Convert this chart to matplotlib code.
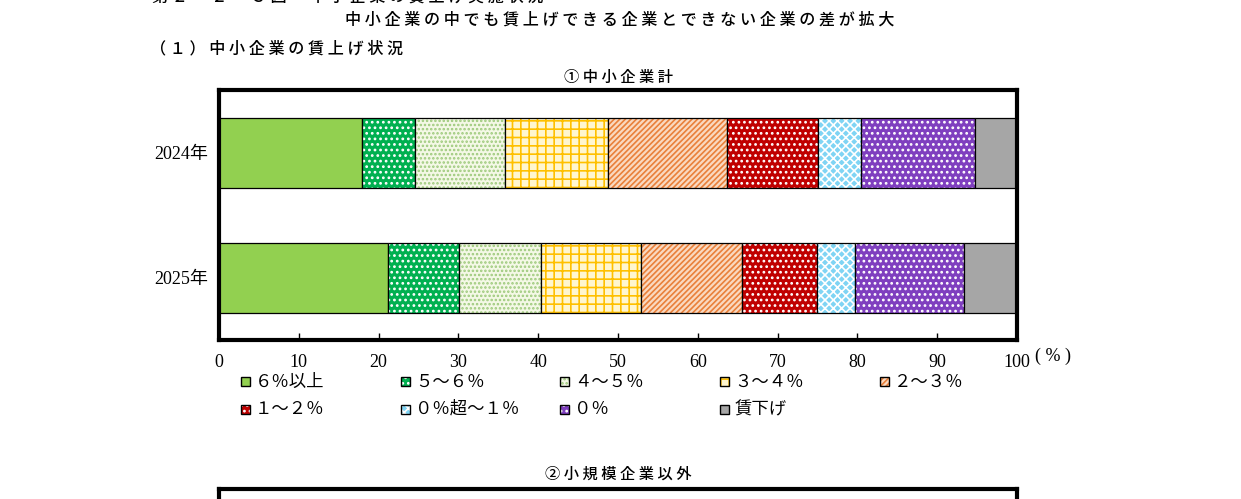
import matplotlib
matplotlib.use("Agg")
from matplotlib import pyplot as plt
from matplotlib.patches import Rectangle

W, H = 1241, 499

# data
years = ["2024年", "2025年"]
categories = ["６％以上", "５～６％", "４～５％", "３～４％", "２～３％",
              "１～２％", "０％超～１％", "０％", "賃下げ"]
share_2024 = [17.9, 6.6, 11.3, 13.0, 14.9, 11.4, 5.4, 14.2, 5.3]
share_2025 = [21.2, 8.9, 10.2, 12.6, 12.7, 9.3, 4.8, 13.7, 6.6]
x_ticks = [0, 10, 20, 30, 40, 50, 60, 70, 80, 90, 100]

# styles
face_colors = ["#92D050", "#00B050", "#F4F8E6", "#FFF6D0", "#FAD9C0",
               "#C00000", "#7FD4F4", "#7F3FBF", "#A6A6A6"]
hatch_colors = [None, "white", "#9CC97A", "#FFC000", "#E9803A",
                "white", "white", "white", None]
hatches = [None, "...", "....", "++", "//////", "...", "xxxx", "...", None]

SANS = ["Noto Sans CJK JP", "DejaVu Sans"]
SERIF = ["Liberation Serif", "Noto Sans CJK JP"]

plt.rcParams["hatch.linewidth"] = 1.2


def fx(px):
    return px / W


def fy(py):
    return 1 - py / H


def spaced(s):
    return " ".join(s)


fig = plt.figure(figsize=(W / 100, H / 100), dpi=100)

# headings
fig.text(fx(152), fy(-3), spaced("第２－２－３図　中小企業の賃上げ実施状況"), ha="left", va="center",
         family=SANS, fontsize=11.6, weight="medium")
fig.text(fx(620), fy(20), spaced("中小企業の中でも賃上げできる企業とできない企業の差が拡大"),
         ha="center", va="center", family=SANS, fontsize=11.6, weight="medium")
fig.text(fx(150), fy(49), spaced("（１）中小企業の賃上げ状況"), ha="left", va="center",
         family=SANS, fontsize=11.6, weight="medium")
fig.text(fx(618), fy(77), spaced("①中小企業計"), ha="center", va="center",
         family=SANS, fontsize=11, weight="medium")
fig.text(fx(618), fy(474), spaced("②小規模企業以外"), ha="center", va="center",
         family=SANS, fontsize=11, weight="medium")

# main panel
ax = fig.add_axes([fx(219), fy(340), 798 / W, 250 / H])
ypos = list(range(len(years)))
left = [0.0] * len(years)
for i, cat in enumerate(categories):
    vals = [share_2024[i], share_2025[i]]
    ax.barh(ypos, vals, left=left, height=0.56, color=face_colors[i], lw=0)
    if hatches[i]:
        ax.barh(ypos, vals, left=left, height=0.56, fill=False,
                edgecolor=hatch_colors[i], hatch=hatches[i], lw=0)
    ax.barh(ypos, vals, left=left, height=0.56, fill=False,
            edgecolor="black", lw=0.9)
    left = [l + v for l, v in zip(left, vals)]

ax.set_xlim(0, 100)
ax.set_ylim(1.5, -0.5)
ax.set_yticks(ypos, years)
ax.set_xticks(x_ticks, [str(t) for t in x_ticks])
for lab in ax.get_yticklabels():
    lab.set_family(SERIF)
    lab.set_fontsize(13)
for lab in ax.get_xticklabels():
    lab.set_family(SERIF)
    lab.set_fontsize(13)
ax.tick_params(axis="y", length=0, pad=8)
ax.tick_params(axis="x", direction="in", length=5, width=1, pad=10)
for sp in ax.spines.values():
    sp.set_linewidth(3)

fig.text(fx(1035), fy(356), "( % )", ha="left", va="center", family=SERIF, fontsize=13)

# legend, drawn as a grid of swatches
lx0, ly0, ldx, ldy = 241, 381.5, 159.7, 27.5
for i, cat in enumerate(categories):
    x = lx0 + (i % 5) * ldx
    y = ly0 + (i // 5) * ldy
    rect = dict(xy=(fx(x), fy(y + 4.5)), width=9 / W, height=9 / H,
                transform=fig.transFigure)
    fig.add_artist(Rectangle(**rect, facecolor=face_colors[i], lw=0))
    if hatches[i]:
        fig.add_artist(Rectangle(**rect, fill=False, edgecolor=hatch_colors[i],
                                 hatch=hatches[i], lw=0))
    fig.add_artist(Rectangle(**rect, fill=False, edgecolor="black", lw=1))
    fig.text(fx(x + 14), fy(y), cat, ha="left", va="center", family=SANS,
             fontsize=12.5)

# second panel (only its top edge is in view)
ax2 = fig.add_axes([fx(219), fy(489 + 250), 798 / W, 250 / H])
ax2.set_xticks([])
ax2.set_yticks([])
for sp in ax2.spines.values():
    sp.set_linewidth(3)

fig.savefig("out.png", dpi=100)
